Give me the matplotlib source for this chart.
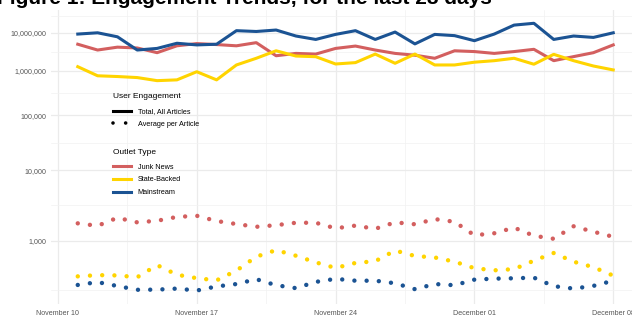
import matplotlib
matplotlib.use('Agg')
import matplotlib.pyplot as plt
import matplotlib.dates as mdates
from matplotlib.lines import Line2D
import numpy as np
import pandas as pd

plt.rcParams['font.family'] = ['Liberation Sans', 'DejaVu Sans']

# 28 days of data
dates = pd.date_range('2019-11-11', '2019-12-08', freq='D')

# Total engagement, all articles (millions)
junk_total = [4.8, 3.35, 4.0, 3.8, 2.85, 4.35, 5.0, 4.7, 4.35, 5.3, 2.37, 2.73, 2.62, 3.7,
              4.28, 3.35, 2.73, 2.45, 2.04, 3.2, 3.05, 2.73, 3.05, 3.5, 1.77, 2.25, 2.85, 4.6]
state_total = [1.25, 0.75, 0.72, 0.68, 0.575, 0.60, 0.94, 0.60, 1.38, 2.04, 3.2, 2.33, 2.24, 1.46,
               1.58, 2.62, 1.52, 2.62, 1.38, 1.38, 1.62, 1.77, 2.04, 1.44, 2.58, 1.77, 1.30, 1.04]
main_total = [9.2, 10.0, 7.7, 3.35, 3.7, 5.1, 4.6, 4.8, 11.5, 10.9, 12.0, 8.1, 6.5, 9.0,
              11.5, 6.5, 10.5, 4.9, 9.0, 8.3, 6.0, 9.2, 16.7, 18.9, 6.5, 8.1, 7.4, 10.0]

# Average engagement per article
junk_avg = [1660, 1542, 1968, 1710, 1795, 2020, 2094, 1780, 1625, 1497, 1570, 1690, 1690, 1430,
            1550, 1410, 1710, 1615, 1890, 1741, 1168, 1238, 1460, 1151, 1056, 1520, 1294, 1118]
state_avg = [393, 405, 402, 385, 520, 409, 376, 357, 453, 647, 771, 664, 558, 484,
             550, 575, 763, 659, 634, 568, 481, 456, 470, 583, 714, 568, 494, 400]
main_avg = [320, 342, 312, 286, 287, 294, 281, 309, 327, 367, 318, 297, 344, 370,
            354, 354, 333, 290, 327, 318, 363, 372, 375, 381, 311, 294, 313, 354]

outlets = ['Junk News', 'State-Backed', 'Mainstream']
colors = ['#D35F5F', '#FFD400', '#1B5393']
totals = [junk_total, state_total, main_total]
avgs = [junk_avg, state_avg, main_avg]

y_ticks = [1e3, 1e4, 1e5, 1e6, 1e7]
x_ticks = pd.to_datetime(['2019-11-10', '2019-11-17', '2019-11-24', '2019-12-01', '2019-12-08'])


def fwd(y):
    with np.errstate(divide='ignore', invalid='ignore'):
        return np.log10(np.log10(np.asarray(y, dtype=float)))


def inv(t):
    return 10 ** (10 ** np.asarray(t, dtype=float))


W, H = 632, 318
fig = plt.figure(figsize=(W / 100, H / 100), dpi=100)
ax = fig.add_axes([51 / W, 14 / H, 589 / W, 294 / H])

dotted = (0, (0.001, 2.75))
for tot, avg, c in zip(totals, avgs, colors):
    ax.plot(dates, np.array(tot) * 1e6, color=c, lw=2.2, solid_joinstyle='round', zorder=3)
    ax.plot(dates, avg, color=c, lw=3.2, linestyle=dotted, dash_capstyle='round', zorder=3)

ax.set_yscale('function', functions=(fwd, inv))
ax.set_yticks(y_ticks)
ax.set_yticklabels([f'{int(v):,}' for v in y_ticks])
tt = fwd([1e2] + y_ticks + [1e8])
ax.set_yticks(inv((tt[:-1] + tt[1:]) / 2), minor=True)
ax.set_ylim(208, 4.8e7)

ax.set_xticks(x_ticks)
ax.xaxis.set_major_formatter(mdates.DateFormatter('%B %d'))
ax.set_xticks(x_ticks[:-1] + pd.Timedelta(hours=84), minor=True)
ax.set_xlim(pd.Timestamp('2019-11-11') - pd.Timedelta(hours=32.4),
            pd.Timestamp('2019-12-08') + pd.Timedelta(hours=32.4))

ax.grid(which='major', color='#EBEBEB', lw=0.9)
ax.grid(which='minor', color='#F2F2F2', lw=0.5)
ax.set_axisbelow(True)
for s in ax.spines.values():
    s.set_visible(False)
ax.tick_params(which='both', length=0, labelsize=5.1, labelcolor='#555555')
ax.tick_params(axis='x', pad=4)
ax.tick_params(axis='y', pad=3)

# Legends
leg_kw = dict(loc='upper left', bbox_transform=fig.transFigure, frameon=False,
              fontsize=5.2, title_fontsize=6, handlelength=2.5, handletextpad=0.9,
              labelspacing=0.79, borderpad=0, borderaxespad=0, alignment='left')
eng = [Line2D([], [], color='black', lw=2.2),
       Line2D([], [], color='black', lw=2.6, linestyle=(0, (0.001, 3.5)), dash_capstyle='round')]
leg1 = ax.legend(eng, ['Total, All Articles', 'Average per Article'], title='User Engagement',
                 bbox_to_anchor=(113 / W, 1 - 93.5 / H), **leg_kw)
leg1._legend_box.sep = 5.5
ax.add_artist(leg1)
out = [Line2D([], [], color=c, lw=2.2) for c in colors]
leg2 = ax.legend(out, outlets, title='Outlet Type',
                 bbox_to_anchor=(113 / W, 1 - 149 / H), **leg_kw)
leg2._legend_box.sep = 5.5

fig.text(-3 / W, 1 - 4.5 / H, 'Figure 1: Engagement Trends, for the last 28 days',
         fontsize=15, fontweight='bold', ha='left', va='baseline')

fig.savefig('out.png', dpi=100)
